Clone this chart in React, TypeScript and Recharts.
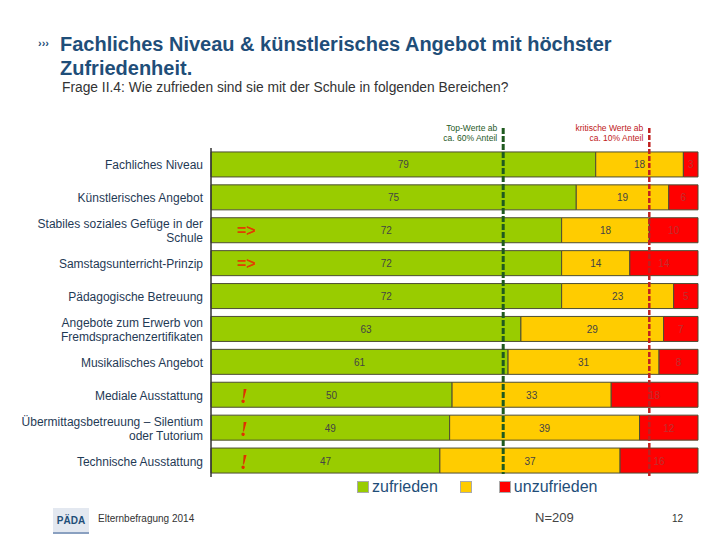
import React from "react";
import {
  BarChart,
  Bar,
  XAxis,
  YAxis,
  LabelList,
  ReferenceLine,
} from "recharts";

const categories = [
  "Fachliches Niveau",
  "Künstlerisches Angebot",
  "Stabiles soziales Gefüge in der\nSchule",
  "Samstagsunterricht-Prinzip",
  "Pädagogische Betreuung",
  "Angebote zum Erwerb von\nFremdsprachenzertifikaten",
  "Musikalisches Angebot",
  "Mediale Ausstattung",
  "Übermittagsbetreuung – Silentium\noder Tutorium",
  "Technische Ausstattung",
];
const zufrieden = [79, 75, 72, 72, 72, 63, 61, 50, 49, 47];
const mittel = [18, 19, 18, 14, 23, 29, 31, 33, 39, 37];
const unzufrieden = [3, 6, 10, 14, 5, 7, 8, 18, 12, 16];
const markers = ["", "", "=>", "=>", "", "", "", "!", "!", "!"];

const GREEN = "#99cc00";
const YELLOW = "#ffcc00";
const RED = "#ff0000";
const BORDER = "#4d4d33";
const BLUE = "#1f4e79";

const data = categories.map((name, i) => ({
  name,
  zufrieden: zufrieden[i],
  mittel: mittel[i],
  unzufrieden: unzufrieden[i],
  marker: markers[i],
}));

const CategoryTick = (props: any) => {
  const { x, y, payload } = props;
  const lines: string[] = String(payload.value).split("\n");
  const start = lines.length > 1 ? -2 : 5;
  return (
    <text
      x={x}
      y={y}
      textAnchor="end"
      fill="#1f3a55"
      fontSize={12}
      fontFamily="Liberation Sans, Arial, sans-serif"
    >
      {lines.map((l, i) => (
        <tspan key={i} x={x} dy={i === 0 ? start : 14}>
          {l}
        </tspan>
      ))}
    </text>
  );
};

const valueLabel = (color: string) => (props: any) => {
  const { x, y, width, height, value } = props;
  return (
    <text
      x={x + width / 2}
      y={y + height / 2 + 4}
      textAnchor="middle"
      fill={color}
      fontSize={10}
      fontFamily="Liberation Sans, Arial, sans-serif"
    >
      {value}
    </text>
  );
};

const MarkerLabel = (props: any) => {
  const { x, y, height, index } = props;
  const m = markers[index];
  if (!m) return null;
  if (m === "!") {
    return (
      <text
        x={x + 29}
        y={y + height / 2 + 8}
        fill="#e03000"
        fontSize={20}
        fontWeight="bold"
        fontStyle="italic"
        fontFamily="Liberation Serif, serif"
      >
        !
      </text>
    );
  }
  return (
    <text
      x={x + 26}
      y={y + height / 2 + 6}
      fill="#e04000"
      fontSize={16}
      fontWeight="bold"
      fontFamily="Liberation Sans, Arial, sans-serif"
    >
      {m}
    </text>
  );
};

const refShape = (color: string, width: number, dash: string, top: string, bottom: string, extra: number) =>
  (p: any) => {
    const yTop = Math.min(p.y1, p.y2);
    const yBot = Math.max(p.y1, p.y2);
    return (
      <g>
        <line
          x1={p.x1}
          y1={yTop - 20}
          x2={p.x2}
          y2={yBot - 3 + extra}
          stroke={color}
          strokeWidth={width}
          strokeDasharray={dash}
        />
        <text
          x={p.x1 - 6}
          y={yTop - 17}
          textAnchor="end"
          fill={color}
          fontSize={8.5}
          fontFamily="Liberation Sans, Arial, sans-serif"
        >
          <tspan x={p.x1 - 6}>{top}</tspan>
          <tspan x={p.x1 - 6} dy={10}>
            {bottom}
          </tspan>
        </text>
      </g>
    );
  };

const LegendBox = ({ color }: { color: string }) => (
  <span
    style={{
      display: "inline-block",
      width: 10,
      height: 10,
      background: color,
      border: "1px solid #aaa",
      marginRight: 3,
    }}
  />
);

export default function App() {
  return (
    <div
      style={{
        position: "fixed",
        left: 0,
        top: 0,
        width: 720,
        height: 540,
        background: "#fff",
        fontFamily: "Liberation Sans, Arial, sans-serif",
      }}
    >
      <div style={{ position: "absolute", left: 38, top: 37, fontSize: 11, color: BLUE, fontWeight: "bold" }}>
        ›››
      </div>
      <div
        style={{
          position: "absolute",
          left: 60,
          top: 32,
          fontSize: 20,
          lineHeight: "24px",
          fontWeight: "bold",
          color: BLUE,
          width: 640,
        }}
      >
        Fachliches Niveau &amp; künstlerisches Angebot mit höchster
        <br />
        Zufriedenheit.
      </div>
      <div style={{ position: "absolute", left: 62, top: 80, fontSize: 13.8, color: "#333" }}>
        Frage II.4: Wie zufrieden sind sie mit der Schule in folgenden Bereichen?
      </div>

      <div style={{ position: "absolute", left: 0, top: 0 }}>
        <BarChart
          width={720}
          height={540}
          data={data}
          layout="vertical"
          stackOffset="expand"
          barCategoryGap="12%"
          margin={{ top: 148, right: 22, bottom: 63, left: 0 }}
        >
          <XAxis type="number" hide domain={[0, 1]} />
          <YAxis
            type="category"
            dataKey="name"
            width={211}
            tickLine={false}
            axisLine={{ stroke: "#333", strokeWidth: 1.5 }}
            tick={<CategoryTick />}
            interval={0}
          />
          <Bar dataKey="zufrieden" stackId="a" fill={GREEN} stroke={BORDER} strokeWidth={1} isAnimationActive={false}>
            <LabelList dataKey="zufrieden" content={valueLabel("#444")} />
            <LabelList dataKey="marker" content={<MarkerLabel />} />
          </Bar>
          <Bar dataKey="mittel" stackId="a" fill={YELLOW} stroke={BORDER} strokeWidth={1} isAnimationActive={false}>
            <LabelList dataKey="mittel" content={valueLabel("#444")} />
          </Bar>
          <Bar dataKey="unzufrieden" stackId="a" fill={RED} stroke={BORDER} strokeWidth={1} isAnimationActive={false}>
            <LabelList dataKey="unzufrieden" content={valueLabel("#c03030")} />
          </Bar>
          <ReferenceLine
            x={0.6}
            ifOverflow="visible"
            shape={refShape("#1f5a1f", 3, "6 2", "Top-Werte ab", "ca. 60% Anteil", 0)}
          />
          <ReferenceLine
            x={0.9}
            ifOverflow="visible"
            shape={refShape("#c02020", 2.5, "5 2", "kritische Werte ab", "ca. 10% Anteil", 4)}
          />
        </BarChart>
      </div>

      <div style={{ position: "absolute", left: 357, top: 478, fontSize: 16, color: BLUE, display: "flex", alignItems: "center" }}>
        <LegendBox color={GREEN} />
        <span>zufrieden</span>
        <span style={{ display: "inline-block", width: 22 }} />
        <LegendBox color={YELLOW} />
        <span style={{ display: "inline-block", width: 24 }} />
        <LegendBox color={RED} />
        <span>unzufrieden</span>
      </div>

      <div
        style={{
          position: "absolute",
          left: 53,
          top: 508,
          width: 36,
          height: 24,
          background: "#e3e8f0",
          color: BLUE,
          fontSize: 10,
          fontWeight: "bold",
          textAlign: "center",
          lineHeight: "26px",
          borderBottom: "2px solid #8aa0c0",
        }}
      >
        PÄDA
      </div>
      <div style={{ position: "absolute", left: 98, top: 513, fontSize: 10, color: "#333" }}>
        Elternbefragung 2014
      </div>
      <div style={{ position: "absolute", left: 535, top: 510, fontSize: 13, color: "#444" }}>N=209</div>
      <div style={{ position: "absolute", left: 672, top: 513, fontSize: 10, color: "#333" }}>12</div>
    </div>
  );
}
